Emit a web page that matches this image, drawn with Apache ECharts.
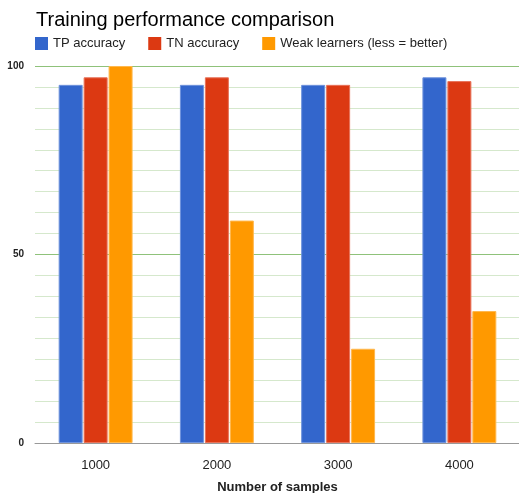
<!DOCTYPE html>
<html>
<head>
<meta charset="utf-8">
<script src="https://cdn.jsdelivr.net/npm/echarts@6/dist/echarts.min.js"></script>
<style>html,body{margin:0;padding:0;background:#fff;overflow:hidden}#c{width:519px;height:493px}</style>
</head>
<body>
<div id="c"></div>
<script>
var categories = ['1000', '2000', '3000', '4000'];
var tpAccuracy = [95, 95, 95, 97];
var tnAccuracy = [97, 97, 95, 96];
var weakLearners = [100, 59, 25, 35];
var seriesNames = ['TP accuracy', 'TN accuracy', 'Weak learners (less = better)'];

var chart = echarts.init(document.getElementById('c'), null, {renderer: 'canvas', width: 519, height: 493});
var font = 'Liberation Sans, Arial, sans-serif';
function bar(name, data, color, border) {
  return {
    name: name, type: 'bar', data: data,
    barWidth: 24, barGap: '4%',
    itemStyle: {color: color, borderColor: border, borderWidth: 1},
    emphasis: {disabled: true}
  };
}
chart.setOption({
  animation: false,
  textStyle: {fontFamily: font},
  title: {
    text: 'Training performance comparison',
    left: 31, top: 5,
    textStyle: {fontSize: 20, fontWeight: 'normal', color: '#000', fontFamily: font}
  },
  legend: {
    left: 30, top: 32,
    itemWidth: 13, itemHeight: 13, itemGap: 23,
    icon: 'rect',
    itemStyle: {borderWidth: 0},
    textStyle: {fontSize: 13, color: '#222', fontFamily: font},
    data: seriesNames
  },
  grid: {left: 35, right: -1, top: 66, height: 377, containLabel: false, outerBoundsMode: 'none'},
  xAxis: {
    type: 'category', data: categories,
    axisLine: {show: true, lineStyle: {color: '#999', width: 1}},
    axisTick: {show: false},
    axisLabel: {fontSize: 13, color: '#222', margin: 16, fontFamily: font},
    name: 'Number of samples', nameLocation: 'middle', nameGap: 38,
    nameTextStyle: {fontSize: 13, fontWeight: 'bold', color: '#222', fontFamily: font}
  },
  yAxis: {
    type: 'value', min: 0, max: 100, interval: 50,
    axisLine: {show: false}, axisTick: {show: false},
    axisLabel: {fontSize: 10, fontWeight: 'bold', color: '#222', margin: 11, fontFamily: font},
    splitLine: {show: true, lineStyle: {color: ['#999', '#8fc27a', '#8fc27a'], width: 1}},
    minorTick: {show: false, splitNumber: 9},
    minorSplitLine: {show: true, lineStyle: {color: '#d5e8cc', width: 1}}
  },
  series: [
    bar(seriesNames[0], tpAccuracy, '#3366cc', '#6f93dc'),
    bar(seriesNames[1], tnAccuracy, '#dc3912', '#e8735a'),
    bar(seriesNames[2], weakLearners, '#ff9900', '#ffb84d')
  ]
});
</script>
</body>
</html>
